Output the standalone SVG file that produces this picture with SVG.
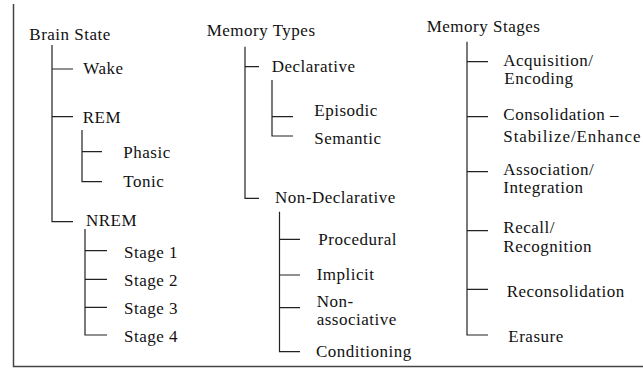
<svg xmlns="http://www.w3.org/2000/svg" width="643" height="368" viewBox="0 0 643 368">
<style>
.c{stroke:#222;stroke-width:1.2;fill:none}
.f{stroke:#444;stroke-width:1.5;fill:none}
</style>
<rect width="643" height="368" fill="#fff"/>
<g id="frame"><path class="f" d="M13.5 4V366.5H643"/></g>
<g id="connectors">
<path class="c" d="M52 45V221.7H73M52 69H73M52 116.7H73"/>
<path class="c" d="M82 130V181.7H102M82 151.7H102"/>
<path class="c" d="M85 229V335H107M85 250.7H107M85 279.3H107M85 307.3H107"/>
<path class="c" d="M245 46.7V198.3H259M245 66.7H259"/>
<path class="c" d="M272 80V136H293M272 116.7H293"/>
<path class="c" d="M279.5 211.7V351.7H300M279.5 239.3H300M279.5 275H300M279.5 307.7H300"/>
<path class="c" d="M467 41.7V335H488M467 61.7H488M467 116.7H488M467 171.7H488M467 230.7H488M467 289.3H488"/>
</g>
<g font-family="Liberation Serif" font-size="17" fill="#111" letter-spacing="0.5">
<g id="brain-state"><text x="29.3" y="40">Brain State</text></g>
<g id="wake"><text x="83.3" y="74">Wake</text></g>
<g id="rem"><text x="82.7" y="123">REM</text></g>
<g id="phasic"><text x="123.3" y="158">Phasic</text></g>
<g id="tonic"><text x="123.3" y="186.5">Tonic</text></g>
<g id="nrem"><text x="86" y="225.5">NREM</text></g>
<g id="stage1"><text x="124" y="258">Stage 1</text></g>
<g id="stage2"><text x="124" y="286">Stage 2</text></g>
<g id="stage3"><text x="124" y="314">Stage 3</text></g>
<g id="stage4"><text x="124" y="341.7">Stage 4</text></g>
<g id="memory-types"><text x="206.7" y="36">Memory Types</text></g>
<g id="declarative"><text x="271.7" y="71.7">Declarative</text></g>
<g id="episodic"><text x="314.3" y="115.5">Episodic</text></g>
<g id="semantic"><text x="314.3" y="144">Semantic</text></g>
<g id="non-declarative"><text x="275" y="203.3">Non-Declarative</text></g>
<g id="procedural"><text x="318.3" y="245">Procedural</text></g>
<g id="implicit"><text x="316.7" y="280">Implicit</text></g>
<g id="non-associative"><text x="316.7" y="307">Non-</text><text x="316.7" y="325.3">associative</text></g>
<g id="conditioning"><text x="316" y="356.7">Conditioning</text></g>
<g id="memory-stages"><text x="426.7" y="31.7">Memory Stages</text></g>
<g id="acquisition"><text x="503.3" y="65.5">Acquisition/</text><text x="504.3" y="83.8">Encoding</text></g>
<g id="consolidation"><text x="503.3" y="120">Consolidation –</text><text x="503.3" y="141.7" letter-spacing="0.9">Stabilize/Enhance</text></g>
<g id="association"><text x="503.3" y="175">Association/</text><text x="503.3" y="193.3">Integration</text></g>
<g id="recall"><text x="503.3" y="233.3">Recall/</text><text x="503.3" y="251.7">Recognition</text></g>
<g id="reconsolidation"><text x="506.7" y="296.7">Reconsolidation</text></g>
<g id="erasure"><text x="508.3" y="341.7">Erasure</text></g>
</g>
</svg>
